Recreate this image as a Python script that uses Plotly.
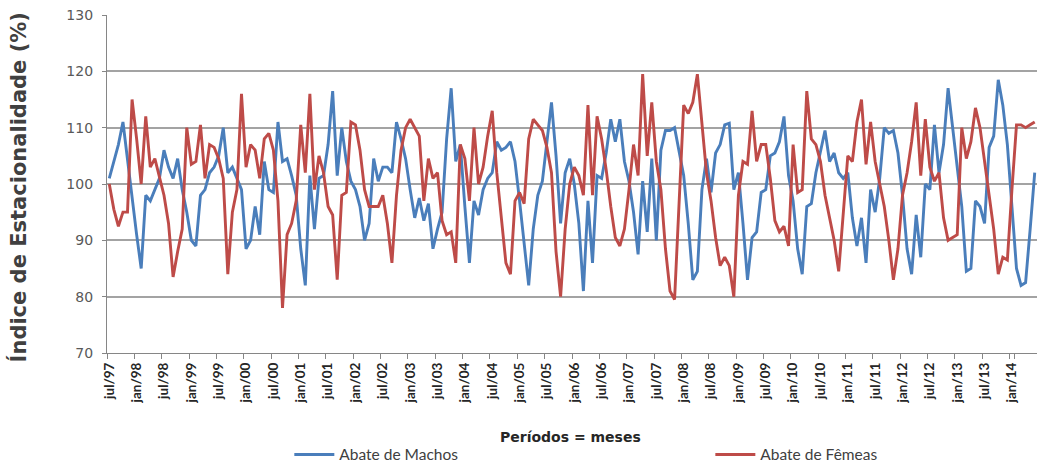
import plotly.graph_objects as go

# Monthly periods from jul/97 to jun/14
meses = ["jan", "fev", "mar", "abr", "mai", "jun", "jul", "ago", "set", "out", "nov", "dez"]
periodos = []
for k in range(204):
    m = (6 + k) % 12
    ano = (97 + (6 + k) // 12) % 100
    periodos.append(f"{meses[m]}/{ano:02d}")

# Tick labels shown every six months
rotulos = ["jul/97", "jan/98", "jul/98", "jan/99", "jul/99", "jan/00", "jul/00", "jan/01",
           "jul/01", "jan/02", "jul/02", "jan/03", "jul/03", "jan/04", "jul/04", "jan/05",
           "jul/05", "jan/06", "jul/06", "jan/07", "jul/07", "jan/08", "jul/08", "jan/09",
           "jul/09", "jan/10", "jul/10", "jan/11", "jul/11", "jan/12", "jul/12", "jan/13",
           "jul/13", "jan/14"]

# Seasonality index (%) - male slaughter
abate_machos = [
    101, 104, 107, 111, 104, 97, 91, 85, 98, 97, 99, 101,
    106, 103, 101, 104.5, 99, 95, 90, 89, 98, 99, 102, 103,
    105, 110, 102, 103, 101, 99, 88.5, 90, 96, 91, 104, 99,
    98.5, 111, 104, 104.5, 101.5, 98, 88.5, 82, 101.5, 92, 101, 101.5,
    107, 116.5, 101.5, 110, 104, 100.5, 99, 96, 90, 93, 104.5, 100.5,
    103, 103, 102, 111, 108, 104.5, 99, 94, 97.5, 93.5, 96.5, 88.5,
    92, 95, 108, 117, 104, 107, 96, 86, 97, 94.5, 99, 101,
    102, 107.5, 106, 106.5, 107.5, 104, 97, 89, 82, 92, 98, 100.5,
    108, 114.5, 105, 93, 102, 104.5, 100, 93, 81, 97, 86, 101.5,
    101, 105.5, 111.5, 107.5, 111.5, 104, 100.5, 95, 87.5, 100.5, 91.5, 104.5,
    90, 106, 109.5, 109.5, 110, 106, 101.5, 93, 83, 84.5, 99, 104.5,
    98.5, 105.5, 107, 110.5, 110.8, 99, 102, 93, 83, 90.5, 91.5, 98.5,
    99, 105, 105.5, 107.5, 112, 101.5, 97, 88.5, 84, 96, 96.5, 102,
    106, 109.5, 104, 105.5, 102, 101, 102, 94, 89, 94, 86, 99,
    95, 101, 110, 109, 109.5, 105.5, 98, 88.5, 84, 94.5, 87, 100,
    99, 110.5, 102, 107, 117, 110, 103, 96, 84.5, 85, 97, 96,
    93, 106.5, 108.5, 118.5, 114, 107, 96, 85, 82, 82.5, 92, 102,
]

# Seasonality index (%) - female slaughter
abate_femeas = [
    100, 95.5, 92.5, 95, 95, 115, 108, 100, 112, 103, 104.5, 101.5,
    98, 93, 83.5, 88, 92, 110, 103.5, 104, 110.5, 101, 107, 106.5,
    104.5, 101, 84, 95, 99, 116, 103, 107, 106, 101, 108, 109,
    106, 97, 78, 91, 93, 97, 110.5, 102, 116, 99, 105, 102,
    96, 94.5, 83, 98, 98.5, 111, 110.5, 106, 99, 96, 96, 96,
    98, 93, 86, 98, 106, 110, 111.5, 110, 108.5, 97, 104.5, 101,
    102, 93.5, 91, 91.5, 86, 107, 104.5, 97, 110, 100, 103, 108.5,
    113, 102, 94, 86, 84, 97, 98.5, 96.5, 108, 111.5, 110.5, 109.5,
    106.5, 102, 88, 80, 92, 100, 103, 101.5, 98, 114, 98, 112,
    108, 102.5, 96, 90.5, 89, 92, 99, 107, 101.5, 119.5, 105, 114.5,
    104, 99, 88.5, 81, 79.5, 96, 114, 112.5, 114.5, 119.5, 110, 102,
    97, 90.5, 85.5, 87, 85.5, 80, 98, 104, 103.5, 113, 104, 107,
    107, 101, 93.5, 91.5, 92.5, 89, 107, 98.5, 99, 116.5, 108, 107,
    104, 98, 94, 90, 84.5, 94.5, 105, 104, 111, 115, 103.5, 111,
    104, 100, 96, 90, 83, 88.5, 98, 102, 107.5, 114.5, 101.5, 111.5,
    103, 100.5, 102, 94, 90, 90.5, 91, 110, 104.5, 107.5, 113.5, 110,
    103.5, 98, 92, 84, 87, 86.5, 99, 110.5, 110.5, 110, 110.5, 111,
]

AZUL = "#4a7ebb"
VERMELHO = "#be4b48"
FONTE = "Lato, 'Open Sans', sans-serif"
FONTE_LARGA = "'DejaVu Sans', Verdana, sans-serif"

fig = go.Figure()
fig.add_trace(go.Scatter(
    x=periodos, y=abate_machos, mode="lines", name="Abate de Machos",
    line=dict(color=AZUL, width=2.9), legend="legend", showlegend=True,
))
fig.add_trace(go.Scatter(
    x=periodos, y=abate_femeas, mode="lines", name="Abate de Fêmeas",
    line=dict(color=VERMELHO, width=2.9), legend="legend2", showlegend=True,
))

# Legends placed in container coordinates so they do not push the plot margins
legenda = dict(
    orientation="h", xref="container", yref="container", yanchor="middle", xanchor="left",
    font=dict(family=FONTE, size=15.5, color="#404040"),
    bgcolor="rgba(0,0,0,0)", itemwidth=40,
)

fig.update_layout(
    width=1037, height=467,
    margin=dict(l=107, r=0, t=15, b=114),
    plot_bgcolor="white", paper_bgcolor="white",
    showlegend=True,
    font=dict(family=FONTE, color="#404040"),
    legend=dict(legenda, x=0.279, y=0.026),
    legend2=dict(legenda, x=0.685, y=0.026),
    xaxis=dict(
        type="category", range=[-0.5, 203.5], automargin=False,
        tickmode="array", tickvals=periodos[::6], ticktext=rotulos,
        tickson="boundaries", ticks="outside", ticklen=5, tickcolor="#868686",
        ticklabelstandoff=3,
        tickangle=-90, tickfont=dict(family=FONTE, size=13.5, color="#262626", weight="bold"),
        showline=True, linecolor="#868686", linewidth=1.3, showgrid=False,
    ),
    yaxis=dict(
        range=[70, 130], automargin=False,
        tickmode="array", tickvals=[70, 80, 90, 100, 110, 120, 130],
        ticks="outside", ticklen=4, tickcolor="#868686", ticklabelstandoff=6,
        tickfont=dict(family=FONTE_LARGA, size=14, color="#595959"),
        showgrid=True, gridcolor="#a3a3a3", gridwidth=1.6,
        showline=True, linecolor="#868686", linewidth=1.3, zeroline=False,
    ),
    annotations=[
        dict(text="Índice de Estacionalidade (%)", textangle=-90,
             xref="paper", yref="paper", x=-0.0957, y=0.49,
             xanchor="center", yanchor="middle", showarrow=False,
             font=dict(family=FONTE_LARGA, size=21, color="#404040", weight="bold")),
        dict(text="Períodos = meses", xref="paper", yref="paper", x=0.498, y=-0.249,
             xanchor="center", yanchor="middle", showarrow=False,
             font=dict(family=FONTE_LARGA, size=14, color="#262626", weight="bold")),
    ],
)

fig.write_html("out.html")
